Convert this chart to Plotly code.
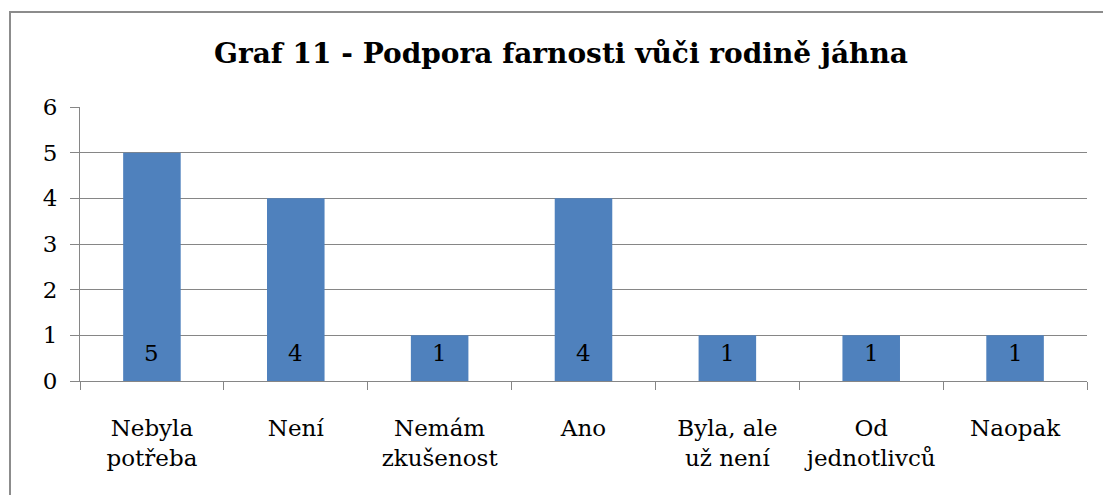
import plotly.graph_objects as go

categories = ["Nebyla<br>potřeba", "Není", "Nemám<br>zkušenost", "Ano", "Byla, ale<br>už není", "Od<br>jednotlivců", "Naopak"]
values = [5, 4, 1, 4, 1, 1, 1]
title_text = "Graf 11 - Podpora farnosti vůči rodině jáhna"

W, H = 1103, 495
L, R, T, B = 80, 16, 107, 114
pw, ph = W - L - R, H - T - B

def px(x):
    return (x - L) / pw

def py(y):
    return (H - B - y) / ph

serif = "DejaVu Serif"

fig = go.Figure(go.Bar(
    x=categories, y=values,
    marker=dict(color="#4F81BD", line=dict(width=0)),
    hoverinfo="skip",
))

for c, v in zip(categories, values):
    fig.add_annotation(x=c, y=0, text=str(v), showarrow=False,
                       yanchor="middle", yshift=28,
                       font=dict(family=serif, size=23, color="black"))

fig.update_layout(
    width=W, height=H,
    margin=dict(l=L, r=R, t=T, b=B),
    paper_bgcolor="white", plot_bgcolor="white",
    bargap=0.6, showlegend=False,
    title=dict(text="<b>" + title_text + "</b>", x=561 / W, xanchor="center",
               y=1 - 53 / H, yanchor="middle",
               font=dict(family=serif, size=28, color="black")),
    font=dict(family=serif, size=23, color="black"),
)
fig.update_xaxes(showline=True, linecolor="#868686", linewidth=1,
                 ticks="outside", tickson="boundaries", ticklen=8, tickcolor="#868686",
                 showgrid=False, tickfont=dict(family=serif, size=23, color="black"),
                 tickangle=0, automargin=False, ticklabelstandoff=26)
fig.update_yaxes(range=[0, 6], dtick=1, showline=True, linecolor="#868686", linewidth=1,
                 ticks="outside", ticklen=9, tickcolor="#868686",
                 showgrid=True, gridcolor="#868686", gridwidth=1, zeroline=False,
                 tickfont=dict(family=serif, size=23, color="black"),
                 automargin=False, ticklabelstandoff=8)

fig.add_shape(type="rect", xref="paper", yref="paper",
              x0=px(10), y0=py(H + 20), x1=px(W + 20), y1=py(12),
              line=dict(color="#8c8c8c", width=2), fillcolor="rgba(0,0,0,0)", layer="below")

fig.write_html("out.html", config={"displayModeBar": False},
               post_script="document.body.style.margin='0';")
